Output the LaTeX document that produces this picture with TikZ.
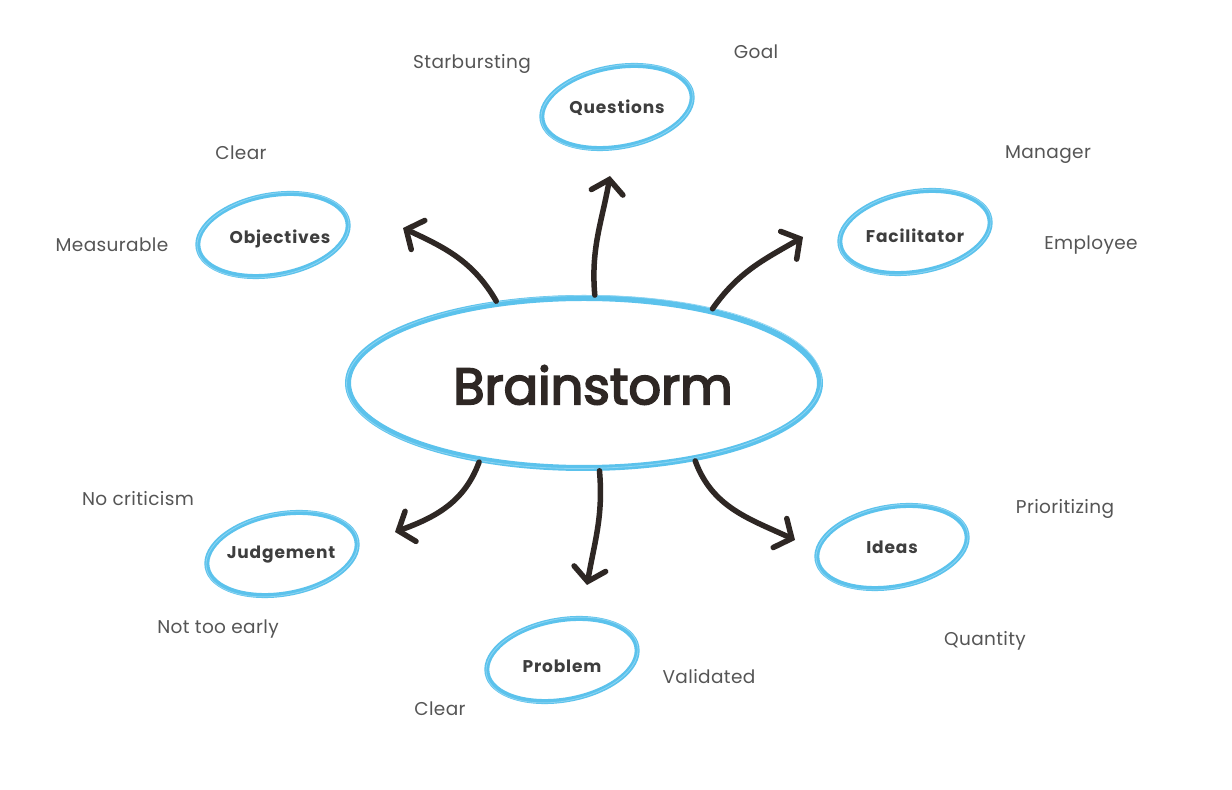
\documentclass[tikz,border=0pt]{standalone}
\usepackage{fontspec}
\setmainfont{Poppins}
\newfontfamily\brainf{Poppins}[FakeBold=3.5]
\newfontfamily\notef{Poppins}[LetterSpace=2]
\newfontfamily\bubf{Poppins}[LetterSpace=5]
\usetikzlibrary{shapes.geometric,arrows.meta}
\definecolor{skyb}{HTML}{5BC2EC}
\definecolor{ink}{HTML}{2E2724}
\definecolor{txtg}{HTML}{555555}
\definecolor{txtd}{HTML}{3E3E3E}
\begin{document}
\begin{tikzpicture}[x=1pt,y=1pt,
 bubble/.style={ellipse, draw=skyb, line width=5pt, minimum width=152pt, minimum height=80pt, inner sep=0pt, rotate=10},
 sketch/.style={ellipse, draw=skyb!70, line width=0.8pt, minimum width=154pt, minimum height=82pt, inner sep=0pt, rotate=11},
 bubtext/.style={font=\bubf\fontsize{17}{19}\selectfont\bfseries, text=txtd},
 note/.style={font=\notef\fontsize{18.5}{21}\selectfont, text=txtg},
 arr/.style={draw=ink, line width=5.5pt, line cap=round, -{Straight Barb[length=13pt,width=32pt,line cap=round]}},
]
\useasboundingbox[fill=white] (0,0) rectangle (1232,790);
% central
\node[ellipse, draw=skyb, line width=6pt, minimum width=472pt, minimum height=170pt, inner sep=0pt] (brain) at (584,407) {};
\node[ellipse, draw=skyb!70, line width=0.8pt, minimum width=475pt, minimum height=173pt, inner sep=0pt, rotate=0.5] (brainsk) at (584,408) {};
\node[font=\brainf\fontsize{51}{60}\selectfont, text=ink] (braint) at (593,405) {Brainstorm};
% bubbles
\node[bubble] (qe) at (617,683) {};
\node[sketch] (qs) at (617,683) {};
\node[bubtext] (q) at (617,682) {Questions};
\node[bubble] (oe) at (273,555) {};
\node[sketch] (os) at (273,555) {};
\node[bubtext] (o) at (280,551) {Objectives};
\node[bubble] (fe) at (915,558) {};
\node[sketch] (fs) at (915,558) {};
\node[bubtext] (f) at (915,554) {Facilitator};
\node[bubble] (je) at (282,236) {};
\node[sketch] (js) at (282,236) {};
\node[bubtext] (j) at (281,235) {Judgement};
\node[bubble] (pe) at (562,130) {};
\node[sketch] (ps) at (562,130) {};
\node[bubtext] (p) at (562,124) {Problem};
\node[bubble] (ie) at (892,243) {};
\node[sketch] (is) at (892,243) {};
\node[bubtext] (i) at (892,243) {Ideas};
% notes
\node[note] (n1) at (472,726) {Starbursting};
\node[note] (n2) at (756,738) {Goal};
\node[note] (n3) at (241,637) {Clear};
\node[note] (n4) at (112,545) {Measurable};
\node[note] (n5) at (1048,635) {Manager};
\node[note] (n6) at (1091,545) {Employee};
\node[note] (n7) at (138,291) {No criticism};
\node[note] (n8) at (218,161) {Not too early};
\node[note] (n9) at (1065,281) {Prioritizing};
\node[note] (n10) at (985,149) {Quantity};
\node[note] (n11) at (709,113) {Validated};
\node[note] (n12) at (440,81) {Clear};
% arrow tips
\coordinate (t1) at (403,562);
\coordinate (t2) at (610,614);
\coordinate (t3) at (803,553);
\coordinate (t4) at (395,258);
\coordinate (t5) at (587,205);
\coordinate (t6) at (795,250);
\draw[arr] (brain.137) to[out=120,in=-25] (t1);
\draw[arr] (brain.83) to[out=95,in=-100] (t2);
\draw[arr] (brain.30) to[out=55,in=210] (t3);
\draw[arr] (brain.217) to[out=-110,in=20] (t4);
\draw[arr] (brain.280) to[out=-85,in=80] (t5);
\draw[arr] (brain.325) to[out=-70,in=155] (t6);
\end{tikzpicture}
\end{document}
